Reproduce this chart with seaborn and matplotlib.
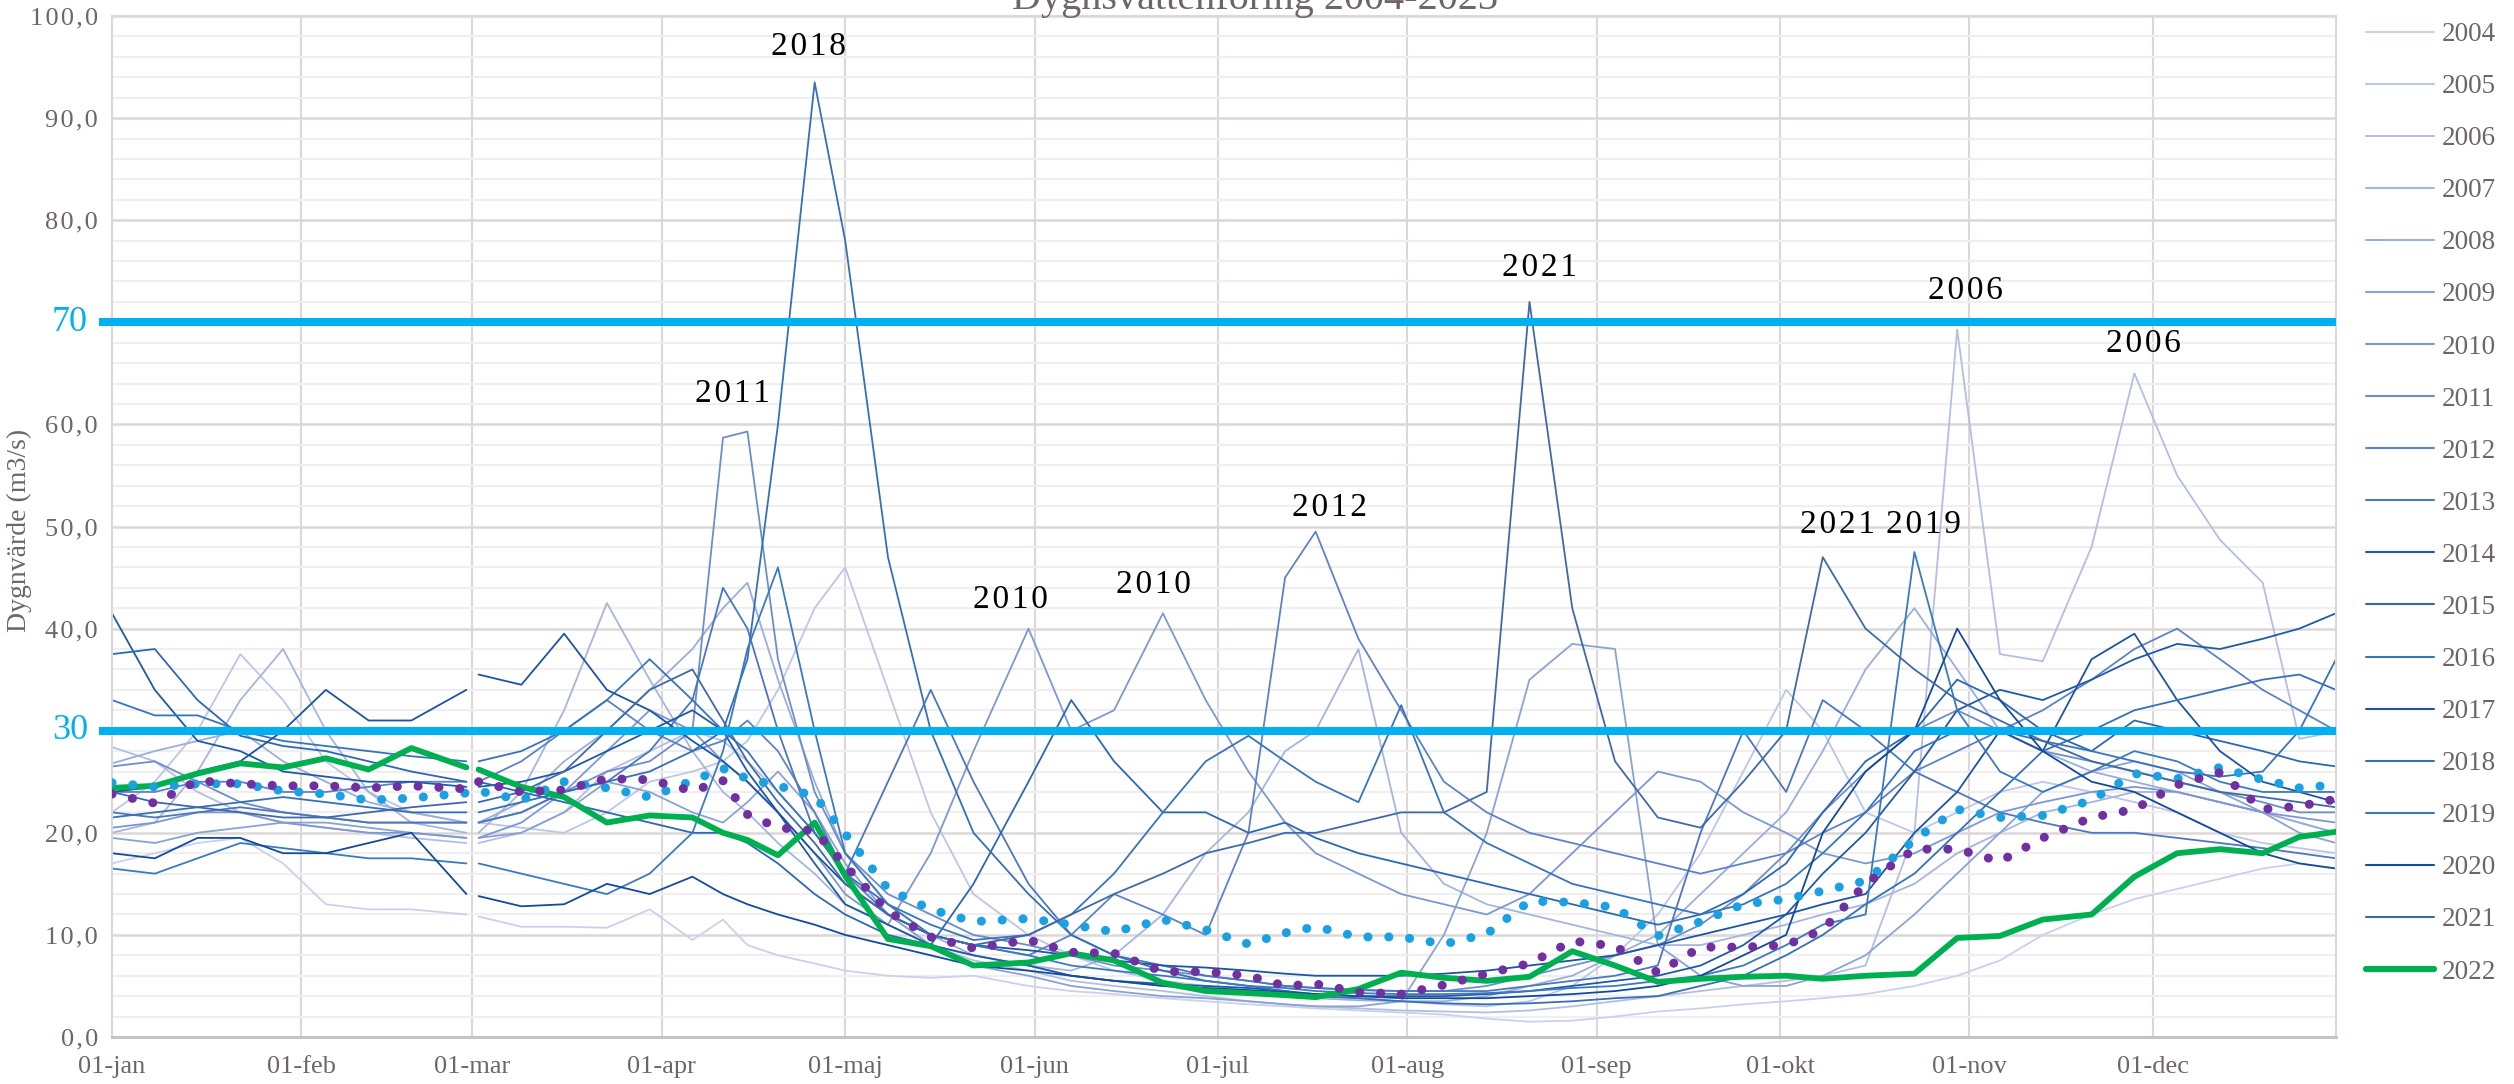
import pandas as pd
import matplotlib
matplotlib.use('Agg')
import matplotlib.pyplot as plt
from matplotlib.lines import Line2D
import seaborn as sns

# dag på året (0 = 1 jan), 29 feb saknas -> glapp mellan 58 och 60
DAYS = [0, 7, 14, 21, 28, 35, 42, 49, 58, 60, 67,
        74, 81, 88, 95, 100, 104, 109, 115, 120, 127, 134,
        141, 150, 157, 164, 172, 179, 186, 192, 197, 204, 211,
        218, 225, 232, 239, 246, 253, 260, 267, 274, 280, 287,
        295, 302, 309, 316, 324, 331, 338, 345, 352, 358, 364]

Y2004 = [17, 18, 19, 19.5, 17, 13, 12.5, 12.5, 12, 11.8, 10.8,
         10.8, 10.7, 12.5, 9.5, 11.5, 9, 8, 7.2, 6.5, 6, 5.8,
         6, 5, 4.5, 4.2, 3.8, 3.5, 3.2, 3, 2.8, 2.6, 2.4,
         2.2, 1.8, 1.5, 1.6, 2, 2.5, 2.8, 3.2, 3.5, 3.8, 4.2,
         5, 6, 7.5, 10, 12, 13.5, 14.5, 15.5, 16.5, 17, 16.5]
Y2005 = [22, 25, 30, 37.5, 33, 27, 24, 22, 21, 21, 20.5,
         20, 22, 25, 26, 27, 29, 34, 42, 46, 34, 22,
         14, 10, 8, 6.5, 5.5, 5, 4.5, 4.2, 4, 3.8, 3.5,
         3.2, 3, 3.5, 5, 8, 12, 18, 26, 34, 30, 22,
         20, 22, 24, 25, 24, 23, 22, 20, 19, 18.5, 18]
Y2006 = [28.4, 27, 24, 22, 21, 20.5, 20, 19.5, 19, 19, 20,
         22, 26, 28, 30, 29, 27, 24, 20, 16, 12, 9,
         7.5, 6.5, 5.5, 5, 4.5, 4, 3.5, 3.2, 3, 2.8, 2.6,
         2.5, 2.4, 2.6, 3, 3.5, 4, 4.5, 5, 5.5, 6, 7,
         20, 69.3, 37.5, 36.8, 48, 65, 55, 48.7, 44.5, 29.2, 29.9]
Y2007 = [20, 21, 26, 33, 38, 30, 24, 21, 20, 20, 24,
         32, 42.5, 35, 28, 24, 22, 19, 16, 13, 11, 9,
         8, 7, 6.5, 8, 12, 18, 22, 28, 30, 38, 20,
         15, 13, 12, 11, 10, 9, 9, 10, 11, 12, 13,
         15, 18, 20, 22, 23, 24, 24, 23, 22, 21, 20]
Y2008 = [26.8, 28, 29, 30, 27, 25, 23, 22, 21, 21, 23,
         27, 30, 34, 38, 42, 44.5, 35, 25, 18, 13, 10,
         8, 7, 6, 5.5, 5, 4.5, 4.2, 4, 3.8, 3.6, 3.5,
         3.5, 4, 5, 6, 8, 10, 14, 18, 22, 28, 36,
         42, 36, 30, 28, 26, 25, 24, 23, 22, 21, 20]
Y2009 = [19.5, 19, 20, 20.5, 21, 21, 20.5, 20, 19.5, 19.5, 20,
         22, 25, 24, 22, 21, 23, 26, 22, 17, 12, 9,
         7, 6, 5, 4.5, 4, 3.8, 3.5, 3.2, 3, 3, 3.5,
         10, 20, 35, 38.5, 38, 9, 6, 5, 5, 6, 8,
         12, 16, 20, 24, 26, 27, 26, 24, 22, 20, 19]
Y2010 = [20.5, 21, 22, 22, 21, 20.5, 20, 20, 19.5, 19.5, 21,
         24, 28, 32, 30, 27, 25, 22, 18, 14, 11, 18,
         28, 40, 30, 32, 41.5, 33, 26, 21, 18, 16, 14,
         13, 12, 14, 18, 22, 26, 25, 22, 20, 18, 17,
         18, 20, 22, 23, 24, 24.5, 24, 23, 22, 21.5, 21]
Y2011 = [26.5, 27, 25, 23, 22, 21.5, 21, 21, 21, 21, 22,
         24, 26, 27, 30, 58.7, 59.3, 37, 24, 18, 14, 12,
         10, 9, 8, 7, 6.5, 6, 5.5, 5, 4.8, 4.6, 4.5,
         4.5, 5, 6, 7, 8, 9, 11, 14, 18, 22, 26,
         30, 32, 30, 28, 27, 26, 25, 24, 23, 22, 22]
Y2012 = [24, 24, 25, 25, 24, 24, 24.5, 25, 25, 25, 27,
         30, 33, 30, 28, 29, 31, 28, 22, 16, 12, 10,
         9, 8, 10, 14, 12, 10, 20, 45, 49.5, 39, 32,
         25, 22, 20, 19, 18, 17, 16, 17, 18, 20, 22,
         26, 28, 30, 32, 35, 38, 40, 37, 34, 32, 30]
Y2013 = [22, 21.5, 22, 22.5, 22, 21.5, 21, 21, 21, 21, 22,
         24, 25, 28, 33, 44, 40, 30, 20, 16, 25, 34,
         25, 15, 10, 8, 7, 6, 5.5, 5, 4.8, 4.6, 4.5,
         4.5, 4.5, 5, 5.5, 6, 7, 20, 30, 24, 33, 30,
         26, 24, 22, 21, 20, 20, 19.5, 19, 18.5, 18, 17.5]
Y2014 = [41.5, 34, 29, 28, 26, 25.5, 25, 25, 24.5, 24.5, 25,
         26, 28, 30, 32, 30, 26, 22, 17, 13, 11, 9,
         8, 7, 6, 5.5, 5.2, 5, 4.8, 4.5, 4.2, 4, 4,
         4, 4.2, 4.5, 5, 5.5, 6, 7, 9, 12, 16, 20,
         26, 32, 34, 33, 35, 37, 38.5, 38, 39, 40, 41.5]
Y2015 = [37.5, 38, 33, 29.5, 28.5, 28, 27, 26, 25, 25, 24,
         23, 22, 21, 20, 20, 19, 17, 14, 12, 10, 9,
         15, 25, 33, 27, 22, 22, 20, 21, 19.5, 18, 17,
         16, 15, 14, 13, 12, 11, 12, 14, 17, 22, 27,
         30, 35, 33, 30, 28, 31, 30, 29, 28, 27, 26.5]
Y2016 = [33, 31.5, 31.5, 30, 29, 28.5, 28, 27.5, 27, 27, 28,
         30, 33, 37, 33, 30, 28, 24, 20, 16, 13, 11,
         9.5, 10, 12, 16, 22, 27, 29.5, 27, 25, 23, 32.5,
         22, 19, 17, 15, 14, 13, 12, 13, 15, 18, 22,
         28, 30, 30, 29, 28, 27, 26, 25.5, 26, 30, 37]
Y2017 = [24, 24.5, 26, 27, 30, 34, 31, 31, 34, 35.5, 34.5,
         39.5, 34, 32, 29, 27, 25, 22, 18, 15, 12, 10,
         9, 8.5, 8, 7.5, 7, 6.8, 6.5, 6.2, 6, 6, 6,
         6.2, 6.5, 7, 7.5, 8, 9, 10, 11, 12, 13, 14,
         20, 24, 30, 28, 37, 39.5, 33, 28, 25, 24, 23]
Y2018 = [21.5, 22, 22.5, 23, 23.5, 23, 22.5, 22, 22, 22, 23,
         24, 25, 26, 28, 30, 37, 60, 93.5, 78, 47, 30,
         20, 14, 10, 8, 6.5, 5.5, 5, 4.5, 4, 3.8, 3.5,
         3.3, 3.2, 3.3, 3.5, 3.8, 4, 5, 6, 8, 10, 13,
         16, 20, 24, 28, 30, 32, 33, 34, 35, 35.5, 34]
Y2019 = [16.5, 16, 17.5, 19, 18.5, 18, 17.5, 17.5, 17, 17, 16,
         15, 14, 16, 20, 28, 38, 46, 30, 18, 13, 10,
         9, 8, 7, 6.5, 6, 5.5, 5, 4.8, 4.5, 4.3, 4.2,
         4.2, 4.3, 4.5, 4.8, 5, 5.5, 6, 7, 9, 11, 12,
         47.5, 32, 26, 24, 26, 28, 27, 25, 24, 24, 24]
Y2020 = [18, 17.5, 19.5, 19.5, 18, 18, 19, 20, 14, 13.8, 12.8,
         13, 15, 14, 15.7, 14, 13, 12, 11, 10, 9, 8,
         7, 6.5, 6, 5.5, 5, 4.8, 4.6, 4.4, 4.2, 4, 3.8,
         3.8, 3.8, 4, 4.2, 4.5, 5, 6, 8, 10, 20, 26,
         30, 40, 33, 28, 25, 24, 22, 20, 18, 17, 16.5]
Y2021 = [24, 23, 22.5, 22, 21.5, 21.5, 22, 22.5, 23, 23, 24,
         26, 30, 34, 36, 31, 27, 23, 19, 15, 12, 10,
         9, 10, 12, 14, 16, 18, 19, 20, 20, 21, 22,
         22, 24, 72, 42, 27, 21.5, 20.5, 25, 30, 47, 40,
         36, 33, 31, 29, 27, 26, 25, 24, 23.5, 23, 22.5]
Y2022 = [24.4, 24.6, 25.8, 26.8, 26.4, 27.3, 26.2, 28.3, 26.4, 26.2, 24.5,
         23.5, 21.0, 21.7, 21.5, 20.0, 19.3, 17.8, 21.0, 15.8, 9.6, 8.9,
         7.0, 7.3, 8.2, 7.5, 5.3, 4.5, 4.3, 4.1, 3.9, 4.7, 6.3,
         5.8, 5.5, 5.9, 8.4, 7.0, 5.4, 5.7, 5.9, 6.0, 5.7, 6.0,
         6.2, 9.7, 9.9, 11.5, 12.0, 15.7, 18.0, 18.4, 18.0, 19.6, 20.1]

# de två prickade kurvorna (ej i legenden)
BLUE_DOTS = [24.9, 24.5, 24.8, 24.8, 24.1, 23.8, 23.2, 23.4, 23.9, 24.1, 23.2,
             25.0, 24.4, 23.5, 25.1, 26.3, 25.3, 24.6, 23.6, 19.9, 14.5, 12.5,
             11.3, 11.6, 11.0, 10.3, 11.5, 10.5, 9.1, 10.2, 10.8, 9.8, 9.8,
             9.1, 10.1, 13.3, 13.2, 12.7, 9.9, 11.3, 13.0, 13.5, 14.3, 15.3,
             19.3, 22.3, 21.5, 21.7, 23.2, 25.8, 25.3, 26.4, 25.2, 24.4, 24.7]
PURPLE_DOTS = [23.8, 22.9, 25.1, 24.8, 24.6, 24.6, 24.4, 24.6, 24.3, 25.0, 24.0,
               24.2, 25.3, 25.2, 24.1, 25.1, 21.8, 20.5, 20.2, 16.8, 12.3, 9.8,
               8.7, 9.5, 8.3, 8.2, 6.4, 6.4, 6.0, 5.0, 5.2, 4.4, 4.2,
               5.1, 6.2, 7.2, 9.4, 8.9, 6.3, 8.8, 8.8, 9.0, 10.5, 15.0,
               18.4, 18.4, 17.2, 19.5, 21.5, 22.3, 24.7, 25.9, 22.3, 22.6, 23.3]

THRESHOLDS = [30, 70]

YEARS = [str(y) for y in range(2004, 2022)]
SERIES = [Y2004, Y2005, Y2006, Y2007, Y2008, Y2009, Y2010, Y2011, Y2012,
          Y2013, Y2014, Y2015, Y2016, Y2017, Y2018, Y2019, Y2020, Y2021]
COLORS = ['#c9d1eb', '#bcc6e6', '#b3bfe2', '#a5b5dd', '#9aaed9', '#8aa2d4',
          '#7d98d0', '#6e8dcb', '#5e82c6', '#4d76c1', '#1f5aa8', '#2c68b3',
          '#3874bd', '#1b55a3', '#3570b8', '#3b7abf', '#144a9a', '#3f6aa8']

MONTH_DAYS = [0, 31, 59, 90, 120, 151, 181, 212, 243, 273, 304, 334]
MONTH_LABELS = ['01-jan', '01-feb', '01-mar', '01-apr', '01-maj', '01-jun',
                '01-jul', '01-aug', '01-sep', '01-okt', '01-nov', '01-dec']

PEAK_TEXT = ['2018', '2011', '2010', '2010', '2012', '2021', '2006', '2021', '2019', '2006']
PEAK_DAY = [114, 101.5, 147, 170.5, 199.3, 233.6, 303.4, 282.4, 296.4, 332.5]
PEAK_Y = [97.0, 63.0, 42.8, 44.3, 51.8, 75.3, 73.1, 50.2, 50.2, 67.9]

GRAY = '#6f6566'
BLUE = '#00b0f0'


def spaced(s):
    # glesare teckenavstånd som i originalet
    return '\u200a'.join(s)


sns.set_style('white')
plt.rcParams['font.family'] = ['Liberation Serif', 'DejaVu Serif']

rows = []
for year, vals in zip(YEARS + ['2022'], SERIES + [Y2022]):
    for d, v in zip(DAYS, vals):
        rows.append({'year': year, 'day': d, 'flow': v, 'seg': 0 if d < 59 else 1})
df = pd.DataFrame(rows)
df_years = df[df['year'] != '2022']
df_2022 = df[df['year'] == '2022']

fig = plt.figure(figsize=(25.14, 10.84), dpi=100)
ax = fig.add_axes([112 / 2514, 47 / 1084, 2224 / 2514, 1021 / 1084])

palette = dict(zip(YEARS, COLORS))
sns.lineplot(data=df_years, x='day', y='flow', hue='year', units='seg', estimator=None,
             palette=palette, linewidth=1.3, legend=False, sort=False, ax=ax)

for t in THRESHOLDS:
    ax.axhline(t, xmin=-0.006, xmax=1.0, color=BLUE, lw=5.8, clip_on=False,
               solid_capstyle='butt', zorder=3)
    ax.text(-0.0108, t, str(t), transform=ax.get_yaxis_transform(), ha='right',
            va='center', fontsize=26, color=BLUE)

sns.lineplot(data=df_2022, x='day', y='flow', units='seg', estimator=None,
             color='#00b050', linewidth=4.2, legend=False, sort=False, ax=ax, zorder=4)

dot_style = (0, (0.01, 2.3))
sns.lineplot(x=DAYS, y=BLUE_DOTS, color='#1ba1e2', linewidth=6.5, linestyle=dot_style,
             dash_capstyle='round', ax=ax, zorder=5)
sns.lineplot(x=DAYS, y=PURPLE_DOTS, color='#7030a0', linewidth=6.5, linestyle=dot_style,
             dash_capstyle='round', ax=ax, zorder=6)

for s, d, v in zip(PEAK_TEXT, PEAK_DAY, PEAK_Y):
    ax.text(d, v, spaced(s), ha='center', va='center', fontsize=24, color='black', zorder=7)

ax.set_xlim(0, 364)
ax.set_ylim(0, 100)
ax.set_xticks(MONTH_DAYS)
ax.set_xticklabels(MONTH_LABELS)
yt = list(range(0, 101, 10))
ax.set_yticks(yt)
ax.set_yticklabels(['' if v in THRESHOLDS else spaced(f'{v},0') for v in yt])
ax.set_yticks(list(range(0, 101, 2)), minor=True)
ax.tick_params(axis='both', which='both', length=0, labelcolor=GRAY)
ax.tick_params(axis='x', pad=14, labelsize=19)
ax.tick_params(axis='y', pad=10, labelsize=19)

ax.grid(which='minor', axis='y', color='#f0eeee', lw=1.6, zorder=0)
ax.grid(which='major', axis='y', color='#dcd8d8', lw=1.8, zorder=0)
ax.grid(which='major', axis='x', color='#dcd8d8', lw=1.5, zorder=0)
ax.set_axisbelow(True)
for side in ['left', 'top', 'right']:
    ax.spines[side].set_color('#dcd8d8')
    ax.spines[side].set_linewidth(1.5)
ax.spines['bottom'].set_color('#c8c2c2')
ax.spines['bottom'].set_linewidth(2.2)
ax.set_xlabel('')
ax.set_ylabel('')

fig.text(19 / 2514, 1 - 530 / 1084, 'Dygnvärde (m3/s)', rotation=90, ha='center',
         va='center', fontsize=20, color=GRAY)
fig.text(1255 / 2514, 1 - 9 / 1084, 'Dygnsvattenföring 2004-2023', ha='center',
         va='baseline', fontsize=29, color=GRAY)

handles = [Line2D([], [], color=c, lw=1.5) for c in COLORS]
handles.append(Line2D([], [], color='#00b050', lw=4.5))
fig.legend(handles, YEARS + ['2022'], loc='upper left',
           bbox_to_anchor=(2366 / 2514, 1 - 22 / 1084), frameon=False,
           handlelength=2.5, handletextpad=0.3, labelspacing=1.0, fontsize=19.5,
           labelcolor=GRAY, borderpad=0, borderaxespad=0)

fig.savefig('out.png', dpi=100)
